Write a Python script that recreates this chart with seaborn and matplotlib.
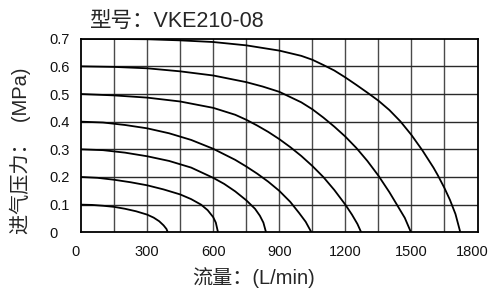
import seaborn as sns
import pandas as pd
import matplotlib.pyplot as plt
import matplotlib.transforms as mtransforms

# flow (L/min) vs inlet pressure (MPa), one curve per supply pressure
flow_01 = [0, 50, 100, 150, 200, 250, 300, 330, 355, 375, 388, 394]
pres_01 = [0.1, 0.099, 0.096, 0.092, 0.085, 0.076, 0.064, 0.053, 0.04, 0.025, 0.012, 0]

flow_02 = [0, 75, 150, 225, 300, 375, 450, 500, 545, 575, 600, 612, 622]
pres_02 = [0.2, 0.197, 0.19, 0.181, 0.17, 0.155, 0.137, 0.12, 0.1, 0.08, 0.055, 0.035, 0]

flow_03 = [0, 100, 200, 300, 400, 500, 600, 650, 700, 750, 790, 812, 828, 840]
pres_03 = [0.3, 0.297, 0.288, 0.275, 0.258, 0.234, 0.197, 0.175, 0.148, 0.116, 0.085, 0.06, 0.035, 0]

flow_04 = [0, 100, 200, 300, 400, 500, 600, 700, 750, 800, 850, 900, 950, 990, 1020, 1046]
pres_04 = [0.4, 0.397, 0.388, 0.376, 0.358, 0.334, 0.302, 0.262, 0.238, 0.212, 0.183, 0.15, 0.11,
           0.07, 0.038, 0]

flow_05 = [0, 150, 300, 450, 600, 700, 750, 800, 850, 900, 950, 1000, 1050, 1100, 1150, 1200, 1230,
           1255, 1272]
pres_05 = [0.5, 0.495, 0.487, 0.473, 0.45, 0.425, 0.407, 0.386, 0.363, 0.337, 0.308, 0.276, 0.24,
           0.2, 0.153, 0.1, 0.064, 0.03, 0]

flow_06 = [0, 150, 300, 450, 600, 750, 825, 900, 1000, 1050, 1100, 1150, 1200, 1250, 1300, 1350,
           1400, 1440, 1470, 1498]
pres_06 = [0.6, 0.598, 0.593, 0.582, 0.567, 0.543, 0.527, 0.508, 0.47, 0.445, 0.415, 0.382, 0.346,
           0.305, 0.258, 0.205, 0.145, 0.092, 0.052, 0]

flow_07 = [0, 150, 300, 450, 600, 750, 900, 1000, 1050, 1100, 1150, 1200, 1250, 1300, 1350, 1400,
           1450, 1500, 1550, 1600, 1620, 1650, 1675, 1700, 1722]
pres_07 = [0.7, 0.699, 0.698, 0.694, 0.688, 0.676, 0.657, 0.638, 0.624, 0.605, 0.585, 0.56, 0.533,
           0.505, 0.476, 0.442, 0.401, 0.352, 0.296, 0.234, 0.206, 0.16, 0.117, 0.066, 0]

x_ticks = [0, 300, 600, 900, 1200, 1500, 1800]
y_ticks = [0, 0.1, 0.2, 0.3, 0.4, 0.5, 0.6, 0.7]
y_labels = ["0", "0.1", "0.2", "0.3", "0.4", "0.5", "0.6", "0.7"]

curves = [(flow_01, pres_01), (flow_02, pres_02), (flow_03, pres_03), (flow_04, pres_04),
          (flow_05, pres_05), (flow_06, pres_06), (flow_07, pres_07)]
rows = []
for i, (fx, py) in enumerate(curves):
    for f, p in zip(fx, py):
        rows.append({"curve": i, "flow": f, "pressure": p})
df = pd.DataFrame(rows)

sns.set_style("white")
plt.rcParams["font.family"] = ["Liberation Sans", "Noto Sans CJK SC", "DejaVu Sans"]

fig = plt.figure(figsize=(4.92, 2.88), dpi=100)
ax = fig.add_axes([81 / 492, 1 - 232.3 / 288, (477.5 - 81) / 492, (232.3 - 38.7) / 288])

# grid every 150 L/min and 0.1 MPa
for gx in range(150, 1800, 150):
    ax.axvline(gx, color="#4a4a4a", lw=1.0, zorder=1)
for gy in [0.1, 0.2, 0.3, 0.4, 0.5, 0.6]:
    ax.axhline(gy, color="#2a2a2a", lw=1.0, zorder=1)

sns.lineplot(data=df, x="flow", y="pressure", units="curve", estimator=None,
             sort=False, color="black", lw=1.3, ax=ax, zorder=3)

ax.set_xlim(0, 1800)
ax.set_ylim(0, 0.7)
ax.set_xticks(x_ticks)
ax.set_xticklabels([str(t) for t in x_ticks])
ax.set_yticks(y_ticks)
ax.set_yticklabels(y_labels)
ax.tick_params(axis="both", length=0, labelsize=10.5, colors="#111111")
ax.tick_params(axis="x", pad=9)
ax.tick_params(axis="y", pad=23)
for lab in ax.get_yticklabels():
    lab.set_horizontalalignment("left")
# first and last x labels sit a little to the left in the original
xlabs = ax.get_xticklabels()
shift = mtransforms.ScaledTranslation(-5 / 100, 0, fig.dpi_scale_trans)
for lab in (xlabs[0], xlabs[-1]):
    lab.set_transform(lab.get_transform() + shift)
ax.set_xlabel("")
ax.set_ylabel("")
for s in ax.spines.values():
    s.set_color("black")
    s.set_linewidth(1.3)

fig.text(90 / 492, 1 - 21 / 288, "型号：VKE210-08", ha="left", va="center", fontsize=15.5)
fig.text(254 / 492, 1 - 278 / 288, "流量：(L/min)", ha="center", va="center", fontsize=14.5)
fig.text(20 / 492, 1 - 151 / 288, "进气压力：  (MPa)", ha="center", va="center",
         rotation=90, fontsize=14.5)

fig.savefig("out.png", dpi=100)
